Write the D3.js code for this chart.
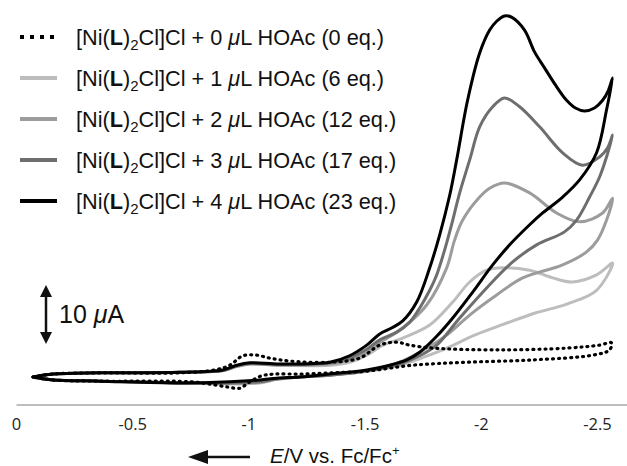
<!DOCTYPE html>
<html>
<head>
<meta charset="utf-8">
<script src="https://cdn.jsdelivr.net/npm/d3@7"></script>
<style>
  html, body { margin: 0; padding: 0; background: #fff; }
  svg { display: block; }
</style>
</head>
<body>
<svg id="chart" width="627" height="466"></svg>
<script>
// ---- Data: potential E (V vs Fc/Fc+) and current I (µA, cathodic up) ----
const cv0 = [ // 0 µL HOAc (0 eq.)
  [-0.071,0.0],[-0.157,0.5],[-0.359,0.7],[-0.703,0.7],[-0.853,1.2],[-0.918,2.0],[-0.974,3.6],[-1.034,3.7],
  [-1.090,3.2],[-1.176,2.7],[-1.348,2.5],[-1.476,3.2],[-1.563,5.4],[-1.636,5.9],[-1.692,5.4],[-1.791,4.9],
  [-2.079,4.6],[-2.367,4.9],[-2.509,5.4],[-2.560,5.8],
  [-2.552,4.6],[-2.479,3.7],[-2.222,2.9],[-1.937,2.5],[-1.705,2.0],[-1.507,1.0],[-1.348,0.7],[-1.219,0.5],
  [-1.111,0.5],[-1.055,0.2],[-1.004,-0.8],[-0.961,-1.9],[-0.909,-1.7],[-0.832,-1.2],[-0.746,-0.8],
  [-0.359,-0.7],[-0.157,-0.5],[-0.071,0.0]
];
const cv1 = [ // 1 µL HOAc (6 eq.)
  [-0.071,0.0],[-0.157,0.5],[-0.359,0.7],[-0.703,0.8],[-0.888,1.1],[-0.948,1.8],[-1.004,2.2],[-1.133,2.0],
  [-1.348,2.0],[-1.433,2.5],[-1.507,3.7],[-1.577,5.4],[-1.662,6.6],[-1.778,8.8],[-1.877,12.7],[-1.950,16.1],
  [-2.023,18.1],[-2.092,18.5],[-2.208,18.1],[-2.307,16.8],[-2.393,16.1],[-2.496,17.3],[-2.565,19.3],
  [-2.496,14.7],[-2.371,12.4],[-2.229,10.8],[-2.100,9.0],[-1.971,7.1],[-1.864,5.1],[-1.756,3.4],[-1.649,2.0],
  [-1.476,0.8],[-1.219,0.0],[-1.120,-0.4],[-1.047,-1.0],[-0.918,-1.2],[-0.703,-1.0],[-0.359,-0.7],
  [-0.157,-0.5],[-0.071,0.0]
];
const cv2 = [ // 2 µL HOAc (12 eq.)
  [-0.071,0.0],[-0.157,0.5],[-0.359,0.7],[-0.703,0.8],[-0.888,1.1],[-0.948,1.8],[-1.004,2.2],[-1.133,2.0],
  [-1.348,2.2],[-1.433,2.9],[-1.507,4.2],[-1.563,5.8],[-1.662,8.3],[-1.765,12.2],[-1.851,18.5],[-1.885,23.2],
  [-1.920,26.6],[-1.993,30.5],[-2.036,32.0],[-2.100,32.9],[-2.208,31.2],[-2.324,27.8],[-2.423,26.3],
  [-2.522,27.8],[-2.565,30.3],
  [-2.539,26.6],[-2.500,23.2],[-2.453,21.2],[-2.350,19.0],[-2.178,16.8],[-2.066,13.9],[-1.950,10.5],
  [-1.851,7.1],[-1.735,4.2],[-1.649,2.5],[-1.507,1.0],[-1.348,0.3],[-1.219,0.0],[-1.120,-0.4],[-1.047,-0.9],
  [-0.918,-1.1],[-0.703,-1.0],[-0.359,-0.7],[-0.157,-0.5],[-0.071,0.0]
];
const cv3 = [ // 3 µL HOAc (17 eq.)
  [-0.071,0.0],[-0.157,0.5],[-0.359,0.7],[-0.703,0.8],[-0.888,1.1],[-0.948,1.9],[-1.004,2.3],[-1.133,2.1],
  [-1.348,2.4],[-1.433,3.2],[-1.507,4.7],[-1.563,6.3],[-1.636,7.6],[-1.692,9.3],[-1.735,11.7],[-1.778,14.7],
  [-1.808,17.3],[-1.842,21.5],[-1.872,25.8],[-1.907,31.2],[-1.950,36.8],[-1.993,42.4],[-2.049,45.8],
  [-2.100,47.3],[-2.165,45.8],[-2.251,42.4],[-2.350,38.0],[-2.436,35.9],[-2.509,37.3],[-2.543,38.8],[-2.565,41.0],
  [-2.539,37.3],[-2.509,33.9],[-2.466,30.5],[-2.410,26.6],[-2.358,24.6],[-2.238,22.4],[-2.135,19.5],
  [-2.023,15.1],[-1.907,10.0],[-1.808,5.4],[-1.735,3.6],[-1.649,2.2],[-1.507,1.0],[-1.348,0.3],[-1.219,0.0],
  [-1.120,-0.3],[-1.047,-0.8],[-0.918,-1.0],[-0.703,-1.0],[-0.359,-0.7],[-0.157,-0.5],[-0.071,0.0]
];
const cv4 = [ // 4 µL HOAc (23 eq.)
  [-0.071,0.0],[-0.157,0.5],[-0.359,0.7],[-0.703,0.8],[-0.888,1.2],[-0.948,2.0],[-1.004,2.4],[-1.133,2.2],
  [-1.348,2.5],[-1.433,3.6],[-1.507,5.4],[-1.563,7.3],[-1.614,8.3],[-1.662,9.5],[-1.722,12.7],[-1.778,18.5],
  [-1.821,24.1],[-1.864,30.8],[-1.894,36.8],[-1.941,46.9],[-1.993,54.9],[-2.036,58.8],[-2.066,60.3],[-2.100,61.2],
  [-2.130,61.0],[-2.186,58.8],[-2.229,55.1],[-2.272,52.4],[-2.319,49.5],[-2.367,46.9],[-2.405,45.6],[-2.444,45.1],
  [-2.487,45.6],[-2.522,46.9],[-2.547,48.6],[-2.565,50.7],
  [-2.539,45.3],[-2.496,38.0],[-2.423,33.4],[-2.350,30.5],[-2.264,27.8],[-2.208,25.8],[-2.122,22.4],
  [-2.049,19.0],[-1.963,14.4],[-1.877,10.0],[-1.808,6.9],[-1.735,4.2],[-1.679,2.9],[-1.606,2.0],[-1.507,1.2],
  [-1.348,0.5],[-1.219,0.0],[-1.120,-0.2],[-1.047,-0.5],[-0.918,-0.8],[-0.703,-1.0],[-0.359,-0.7],
  [-0.157,-0.5],[-0.071,0.0]
];

const volumes = ["0", "1", "2", "3", "4"];
const equivalents = ["0", "6", "12", "17", "23"];
const tickValues = [0, -0.5, -1, -1.5, -2, -2.5];
const tickLabels = ["0", "-0.5", "-1", "-1.5", "-2", "-2.5"];
const scaleBarValue = 10; // µA

// ---- Styles ----
const seriesData = [cv0, cv1, cv2, cv3, cv4];
const colors = ["#000000", "#bdbdbd", "#9c9c9c", "#6e6e6e", "#000000"];

const svg = d3.select("#chart");
svg.append("rect").attr("width", 627).attr("height", 466).attr("fill", "#fff");

const x = d3.scaleLinear().domain([0, -2.5]).range([16.5, 597.5]);
const y = d3.scaleLinear().domain([0, 10]).range([377, 318]);

// x axis line
const axisY = 405;
svg.append("line")
  .attr("x1", x(0)).attr("x2", 627)
  .attr("y1", axisY).attr("y2", axisY)
  .attr("stroke", "#a8a8a8").attr("stroke-width", 1.5);

svg.selectAll("text.tick")
  .data(tickValues)
  .enter().append("text")
  .attr("class", "tick")
  .attr("x", d => x(d))
  .attr("y", axisY + 25)
  .attr("text-anchor", "middle")
  .attr("font-family", "'Open Sans', sans-serif")
  .attr("font-size", 16.5)
  .attr("fill", "#222")
  .text((d, i) => tickLabels[i]);

// curves
const line = d3.line()
  .x(d => x(d[0]))
  .y(d => y(d[1]))
  .curve(d3.curveCatmullRom.alpha(0.5));

const drawOrder = [1, 2, 3, 4, 0];
drawOrder.forEach(i => {
  const p = svg.append("path")
    .attr("d", line(seriesData[i]))
    .attr("fill", "none")
    .attr("stroke", colors[i])
    .attr("stroke-width", 3)
    .attr("stroke-linejoin", "round")
    .attr("stroke-linecap", "round");
  if (i === 0) {
    p.attr("stroke-dasharray", "1 5").attr("stroke-width", 3.2);
  }
});

// legend
const legend = svg.append("g");
volumes.forEach((v, i) => {
  const base = 45 + i * 41;
  const ly = base - 8;
  const l = legend.append("line")
    .attr("x1", 20).attr("x2", 57)
    .attr("y1", ly).attr("y2", ly)
    .attr("stroke", colors[i])
    .attr("stroke-width", 4);
  if (i === 0) l.attr("stroke-dasharray", "4 6");
  const t = legend.append("text")
    .attr("x", 76).attr("y", base)
    .attr("font-family", "'Liberation Sans', Arial, sans-serif")
    .attr("font-size", 21.7)
    .attr("fill", "#111");
  t.append("tspan").text("[Ni(");
  t.append("tspan").attr("font-weight", "bold").text("L");
  t.append("tspan").text(")");
  t.append("tspan").attr("font-size", 15).attr("dy", 5).text("2");
  t.append("tspan").attr("dy", -5).text("Cl]Cl + " + v + " ");
  t.append("tspan").attr("font-style", "italic").text("\u03BC");
  t.append("tspan").text("L HOAc (" + equivalents[i] + " eq.)");
});

// scale bar (10 µA)
const barTop = 285;
const barBottom = barTop + (y(0) - y(scaleBarValue));
const bx = 46;
const sb = svg.append("g").attr("fill", "#111").attr("stroke", "#111");
sb.append("line").attr("x1", bx).attr("x2", bx).attr("y1", barTop + 8).attr("y2", barBottom - 8).attr("stroke-width", 2.5);
sb.append("path").attr("stroke", "none")
  .attr("d", `M${bx},${barTop} L${bx - 6},${barTop + 12} L${bx + 6},${barTop + 12} Z`);
sb.append("path").attr("stroke", "none")
  .attr("d", `M${bx},${barBottom} L${bx - 6},${barBottom - 12} L${bx + 6},${barBottom - 12} Z`);
const sbt = svg.append("text")
  .attr("x", 59).attr("y", 323)
  .attr("font-family", "'Liberation Sans', Arial, sans-serif")
  .attr("font-size", 25)
  .attr("fill", "#111");
sbt.append("tspan").text(scaleBarValue + " ");
sbt.append("tspan").attr("font-style", "italic").text("\u03BC");
sbt.append("tspan").text("A");

// axis title with arrow
const ay = 457;
svg.append("line").attr("x1", 205).attr("x2", 250).attr("y1", ay).attr("y2", ay)
  .attr("stroke", "#111").attr("stroke-width", 2.5);
svg.append("path").attr("fill", "#111")
  .attr("d", `M188,${ay} L208,${ay - 7} L208,${ay + 7} Z`);
const at = svg.append("text")
  .attr("x", 270).attr("y", 463)
  .attr("font-family", "'Liberation Sans', Arial, sans-serif")
  .attr("font-size", 20.5)
  .attr("fill", "#111");
at.append("tspan").attr("font-style", "italic").text("E");
at.append("tspan").text("/V vs. Fc/Fc");
at.append("tspan").attr("font-size", 13).attr("dy", -8).text("+");
</script>
</body>
</html>
